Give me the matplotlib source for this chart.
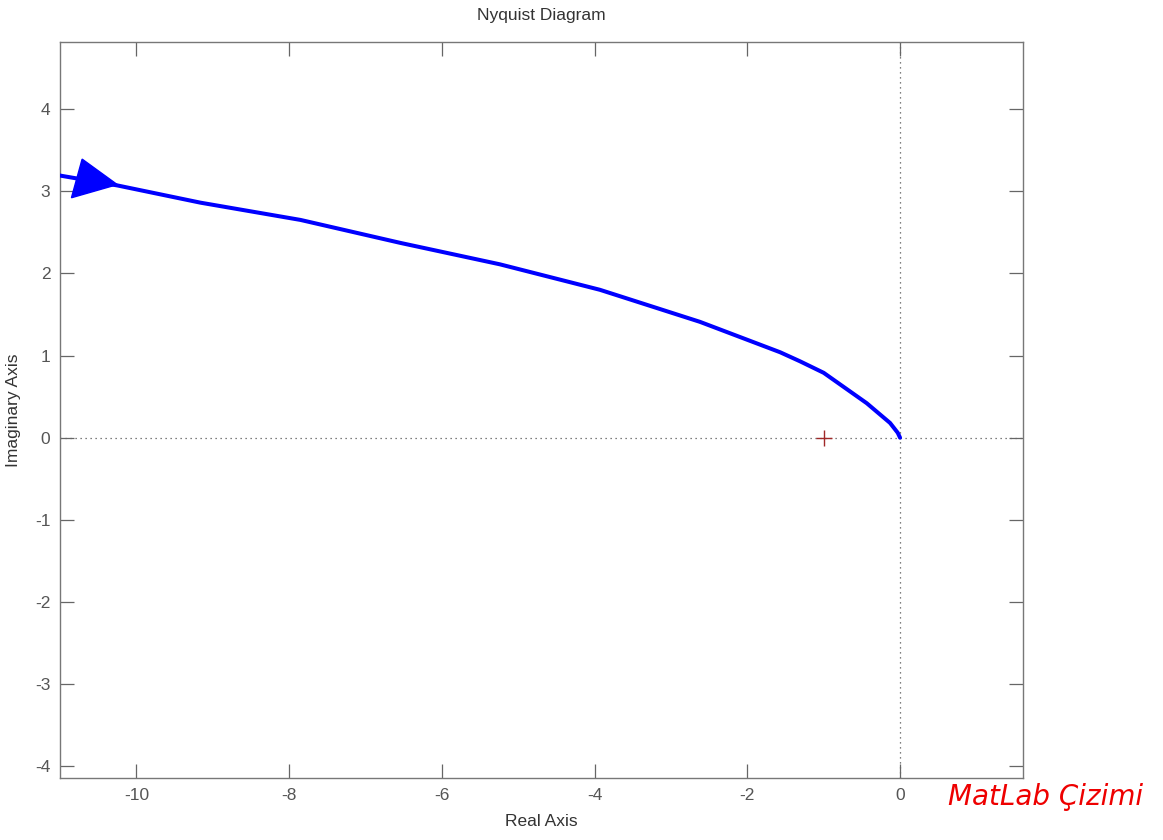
import matplotlib
matplotlib.use("Agg")
import matplotlib.pyplot as plt
from matplotlib.patches import Polygon

# Nyquist curve
real_part = [-11.0, -10.25, -9.16, -7.85, -6.54, -5.24, -3.93, -2.62, -1.57, -1.31, -1.00, -0.436, -0.131, -0.03, 0.0]
imag_part = [3.19, 3.07, 2.86, 2.65, 2.37, 2.11, 1.80, 1.41, 1.04, 0.93, 0.79, 0.42, 0.18, 0.06, 0.0]

# arrow head (triangle) on the curve
arrow_x = [-10.71, -10.85, -10.25]
arrow_y = [3.39, 2.92, 3.08]

critical_point = (-1.0, 0.0)

x_ticks = [-10, -8, -6, -4, -2, 0]
y_ticks = [-4, -3, -2, -1, 0, 1, 2, 3, 4]
x_limits = (-11.0, 1.61)
y_limits = (-4.14, 4.815)

plt.rcParams['font.family'] = ['Liberation Sans', 'DejaVu Sans']

fig = plt.figure(figsize=(11.63, 8.4), dpi=100)
ax = fig.add_axes([60/1163, 1-778/840, (1023-60)/1163, (778-42)/840])

ax.axhline(0, color='#555555', linestyle=(0, (1, 3)), linewidth=0.9, zorder=1)
ax.axvline(0, color='#555555', linestyle=(0, (1, 3)), linewidth=0.9, zorder=1)

ax.plot(real_part, imag_part, color='#0000ff', linewidth=2.9, solid_capstyle='round',
        solid_joinstyle='round', zorder=3)
ax.add_patch(Polygon(list(zip(arrow_x, arrow_y)), closed=True, facecolor='#0000ff',
                     edgecolor='#0000ff', zorder=4))

ax.plot([critical_point[0]], [critical_point[1]], marker='+', color='#a02828',
        markersize=11, markeredgewidth=1.0, linestyle='none', zorder=5)

ax.set_xlim(*x_limits)
ax.set_ylim(*y_limits)
ax.set_xticks(x_ticks)
ax.set_yticks(y_ticks)
ax.set_xticklabels([str(t) for t in x_ticks])
ax.set_yticklabels([str(t) for t in y_ticks])
ax.tick_params(direction='in', length=10, width=0.9, color='#666666',
               labelcolor='#555555', labelsize=12.5, top=True, right=True, pad=7)
for s in ax.spines.values():
    s.set_color('#777777')
    s.set_linewidth(1.0)

ax.set_title('Nyquist Diagram', fontsize=12.5, color='#333333', pad=16)
ax.set_xlabel('Real Axis', fontsize=12.5, color='#333333', labelpad=8)
ax.set_ylabel('Imaginary Axis', fontsize=12.5, color='#333333', labelpad=10)

fig.text(1143/1163, 1-797/840, 'MatLab Çizimi', color='#ee0000', fontsize=20,
         family='DejaVu Sans', style='italic', ha='right', va='center')

fig.savefig('out.png', dpi=100, facecolor='white')
